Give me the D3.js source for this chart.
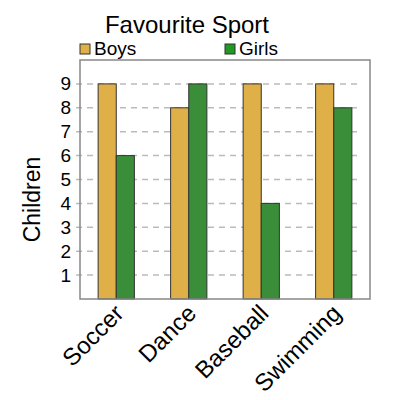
<!DOCTYPE html>
<html>
<head>
<meta charset="utf-8">
<script src="https://cdn.jsdelivr.net/npm/d3@7"></script>
<style>
  body { margin: 0; background: #fff; }
  text { font-family: "Liberation Sans", Arial, sans-serif; }
</style>
</head>
<body>
<div id="chart"></div>
<script>
var sports = ['Soccer', 'Dance', 'Baseball', 'Swimming']
var boys = [9, 8, 9, 9]
var girls = [6, 9, 4, 8]
var y_ticks = [1, 2, 3, 4, 5, 6, 7, 8, 9]
var series_names = ['Boys', 'Girls']
var series_colors = ['#e0b048', '#3a8e3a']

var width = 400
var height = 400
var plot = { left: 80, right: 370, top: 60, bottom: 299 }

var svg = d3.select('#chart').append('svg')
  .attr('width', width)
  .attr('height', height)

var x = d3.scaleBand()
  .domain(sports)
  .range([plot.left, plot.right])
  .paddingInner(0.5)
  .paddingOuter(0.25)

var x_inner = d3.scaleBand()
  .domain(series_names)
  .range([0, x.bandwidth()])

var y = d3.scaleLinear()
  .domain([0, 10])
  .range([plot.bottom, plot.top])

// gridlines
svg.append('g')
  .selectAll('line')
  .data(y_ticks)
  .enter().append('line')
  .attr('x1', plot.left - 4)
  .attr('x2', plot.right - 8)
  .attr('y1', function(d) { return y(d) })
  .attr('y2', function(d) { return y(d) })
  .attr('stroke', '#bbb')
  .attr('stroke-width', 1.5)
  .attr('stroke-dasharray', '6,5')

// y axis labels
var y_axis = svg.append('g')
  .attr('transform', 'translate(' + plot.left + ',0)')
  .call(d3.axisLeft(y).tickValues(y_ticks).tickSize(0).tickPadding(9))
y_axis.select('.domain').remove()
y_axis.selectAll('text')
  .style('font-size', '19px')
  .attr('fill', '#000')

// bars
var rows = sports.map(function(s, i) {
  return { sport: s, values: [boys[i], girls[i]] }
})

var groups = svg.append('g').selectAll('g')
  .data(rows)
  .enter().append('g')
  .attr('transform', function(d) { return 'translate(' + x(d.sport) + ',0)' })

groups.selectAll('rect')
  .data(function(d) { return d.values })
  .enter().append('rect')
  .attr('x', function(d, i) { return x_inner(series_names[i]) })
  .attr('width', x_inner.bandwidth())
  .attr('y', function(d) { return y(d) })
  .attr('height', function(d) { return y(0) - y(d) })
  .attr('fill', function(d, i) { return series_colors[i] })
  .attr('stroke', '#333')
  .attr('stroke-width', 1)

// plot frame
svg.append('rect')
  .attr('x', plot.left)
  .attr('y', plot.top)
  .attr('width', plot.right - plot.left)
  .attr('height', plot.bottom - plot.top)
  .attr('fill', 'none')
  .attr('stroke', '#888')
  .attr('stroke-width', 1.5)

// x labels, rotated
svg.append('g').selectAll('text')
  .data(sports)
  .enter().append('text')
  .attr('transform', function(d) {
    return 'translate(' + (x(d) + x.bandwidth() / 2 - 3) + ',' + (plot.bottom + 4) + ') rotate(-45)'
  })
  .attr('text-anchor', 'end')
  .attr('dy', '0.7em')
  .style('font-size', '24px')
  .text(function(d) { return d })

// y title
svg.append('text')
  .attr('transform', 'translate(40,' + ((plot.top + plot.bottom) / 2 + 20) + ') rotate(-90)')
  .attr('text-anchor', 'middle')
  .style('font-size', '23px')
  .text('Children')

// title
svg.append('text')
  .attr('x', 187)
  .attr('y', 33)
  .attr('text-anchor', 'middle')
  .style('font-size', '24px')
  .text('Favourite Sport')

// legend
var legend_x = [80, 225]
series_names.forEach(function(name, i) {
  svg.append('rect')
    .attr('x', legend_x[i])
    .attr('y', 44)
    .attr('width', 10)
    .attr('height', 10)
    .attr('fill', i === 0 ? series_colors[0] : '#229922')
    .attr('stroke', '#333')
    .attr('stroke-width', 1)
  svg.append('text')
    .attr('x', legend_x[i] + 14)
    .attr('y', 55)
    .style('font-size', '19px')
    .text(name)
})
</script>
</body>
</html>
